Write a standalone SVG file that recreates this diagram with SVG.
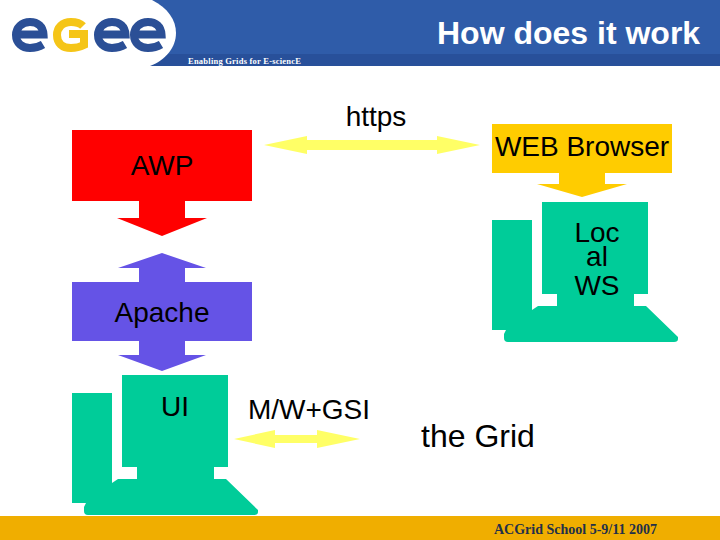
<svg xmlns="http://www.w3.org/2000/svg" width="720" height="540" viewBox="0 0 720 540">
<style>
.t{font-family:"Liberation Sans",Arial,sans-serif;fill:#000;font-size:28px}
.s{font-family:"Liberation Serif","Times New Roman",serif;font-weight:bold}
.g{fill:#00cc99}
.e{fill:none;stroke:#2b4f96;stroke-width:8}
.a{fill:#ffff66}
</style>
<defs>
<path id="pc" class="g" d="M72 393H112V483L118 479H137V467H122V375H228V467H214V479H226L258 510V512Q258 515 254 515H88Q84 515 84 511V507L86 503H72Z"/>
<path id="ee" class="e" d="M16.500 34.500H43.500C43 26.500 38 22 30 22C21.500 22 16 28 16 35C16 43 22 48 30 48C35 48 39 47 43 44.500"/>
</defs>
<rect width="720" height="540" fill="#fff"/>
<g id="header">
<rect x="0" y="0" width="720" height="66" fill="#2f5ca9"/>
<rect x="150" y="54" width="570" height="12" fill="#28509a"/>
<path d="M0 0H152C168 8 176 20 176 33C176 47 166 60 150 66H0Z" fill="#fff"/>
<text x="437" y="44" class="t" style="font-size:32px;font-weight:bold;fill:#fff">How does it work</text>
<text x="188" y="64" class="s" style="font-size:8.500px;fill:#fff" textLength="113">Enabling Grids for E-sciencE</text>
</g>
<g id="logo">
<use href="#ee"/>
<path d="M83 26C80 23 76 22 71 22C62 22 57 28 57 35C57 43 62 48 71 48C76 48 80 47 84 45V34H69" fill="none" stroke="#f5c518" stroke-width="8"/>
<use href="#ee" x="82"/>
<use href="#ee" x="118"/>
</g>
<g id="footer">
<rect x="0" y="516" width="720" height="24" fill="#f0ae00"/>
<text x="494" y="534" class="s" style="font-size:14px;fill:#22304a">ACGrid School 5-9/11 2007</text>
</g>
<g id="connectors">
<path class="a" d="M264 145L307 136V140H437V136L480 145L437 154V150H307V154Z"/>
<path class="a" d="M234 439L275 430V435H317V430L360 439L317 448V443H275V448Z"/>
</g>
<g id="awp">
<path d="M72 130H252V201H185V218H207L162 236L117 218H139V201H72Z" fill="#ff0000"/>
<text x="162" y="175" text-anchor="middle" class="t">AWP</text>
</g>
<g id="apache">
<path d="M162 253L206 268H185V282H252V341H185V355H206L162 371L118 355H139V341H72V282H139V268H118Z" fill="#6553e6"/>
<text x="162" y="322" text-anchor="middle" class="t">Apache</text>
</g>
<g id="browser">
<path d="M492 124H672V173H605V184H627L582 197L537 184H559V173H492Z" fill="#ffcc00"/>
<text x="582" y="156" text-anchor="middle" class="t">WEB Browser</text>
</g>
<g id="ui">
<use href="#pc"/>
<text x="175" y="416" text-anchor="middle" class="t">UI</text>
</g>
<g id="localws">
<use href="#pc" x="420" y="-173"/>
<text x="597" y="242" text-anchor="middle" class="t">Loc</text>
<text x="597" y="266" text-anchor="middle" class="t">al</text>
<text x="597" y="295" text-anchor="middle" class="t">WS</text>
</g>
<text id="https" x="376" y="126" text-anchor="middle" class="t">https</text>
<text id="mw" x="309" y="419" text-anchor="middle" class="t">M/W+GSI</text>
<text id="grid" x="478" y="447" text-anchor="middle" class="t" style="font-size:32px">the Grid</text>
</svg>
